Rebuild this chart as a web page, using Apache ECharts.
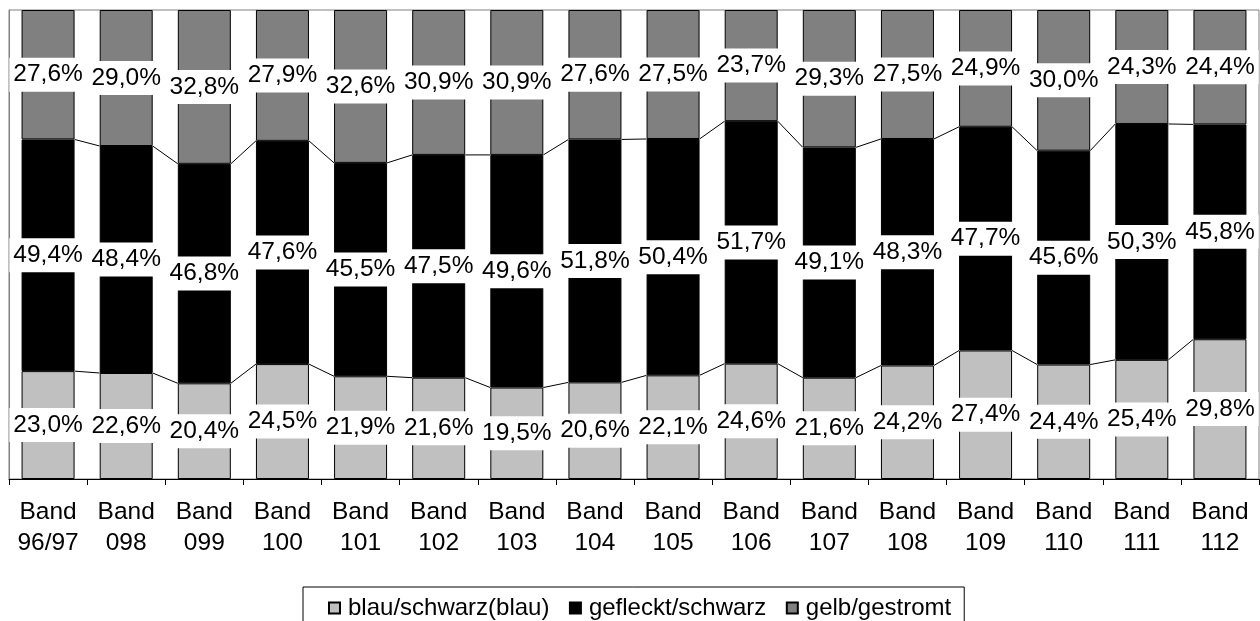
<!DOCTYPE html>
<html>
<head>
<meta charset="utf-8">
<script src="https://cdn.jsdelivr.net/npm/echarts@6/dist/echarts.min.js"></script>
<style>
html,body{margin:0;padding:0;background:#fff;}
#chart{width:1260px;height:621px;}
</style>
</head>
<body>
<div id="chart"></div>
<script>
const categories = ['Band\n96/97','Band\n098','Band\n099','Band\n100','Band\n101','Band\n102','Band\n103','Band\n104','Band\n105','Band\n106','Band\n107','Band\n108','Band\n109','Band\n110','Band\n111','Band\n112'];
const blau = [23.0,22.6,20.4,24.5,21.9,21.6,19.5,20.6,22.1,24.6,21.6,24.2,27.4,24.4,25.4,29.8];
const gefleckt = [49.4,48.4,46.8,47.6,45.5,47.5,49.6,51.8,50.4,51.7,49.1,48.3,47.7,45.6,50.3,45.8];
const gelb = [27.6,29.0,32.8,27.9,32.6,30.9,30.9,27.6,27.5,23.7,29.3,27.5,24.9,30.0,24.3,24.4];
const seriesNames = ['blau/schwarz(blau)','gefleckt/schwarz','gelb/gestromt'];

const FONT = "'Liberation Sans', Arial, sans-serif";
const BAR_W = 53;

const cumLow = blau.slice();
const cumMid = blau.map((v,i)=>v+gefleckt[i]);
const connData = [];
for (let i=0;i<categories.length-1;i++){
  connData.push([i, i+1, cumLow[i], cumLow[i+1], cumMid[i], cumMid[i+1]]);
}

const fmt = p => p.value.toFixed(1).replace('.', ',') + '%';
const labelCfg = {
  show: true, position: 'inside', formatter: fmt,
  color: '#000', fontFamily: FONT, fontSize: 24.5, lineHeight: 24,
  backgroundColor: '#fff', padding: [5,4]
};

function barSeries(name, data, color){
  return {
    name, type: 'bar', stack: 'total', data, barWidth: BAR_W,
    itemStyle: {color, borderColor: '#000', borderWidth: 1},
    label: labelCfg
  };
}

const chart = echarts.init(document.getElementById('chart'), null, {renderer:'canvas'});
chart.setOption({
  animation: false,
  backgroundColor: '#fff',
  grid: {left: 9, right: 1, top: 10, bottom: 142, show: true, borderColor: '#808080', borderWidth: 1},
  xAxis: {
    type: 'category', data: categories,
    axisLine: {lineStyle: {color: '#000', width: 1}},
    axisTick: {show: true, length: 6, lineStyle: {color: '#000'}},
    axisLabel: {color: '#000', fontFamily: FONT, fontSize: 24.5, lineHeight: 30.5, margin: 18, interval: 0}
  },
  yAxis: {
    type: 'value', min: 0, max: 100,
    axisLine: {show: true, lineStyle: {color: '#808080'}},
    axisTick: {show: false}, axisLabel: {show: false}, splitLine: {show: false}
  },
  legend: {
    data: seriesNames, left: 303, top: 587, orient: 'horizontal',
    borderColor: '#000', borderWidth: 1, padding: [9,13,9,25],
    itemGap: 19.5, itemWidth: 11, itemHeight: 11, icon: 'rect',
    textStyle: {color: '#000', fontFamily: FONT, fontSize: 24, padding: [0,0,0,3]}
  },
  series: [
    barSeries(seriesNames[0], blau, '#C0C0C0'),
    barSeries(seriesNames[1], gefleckt, '#000000'),
    barSeries(seriesNames[2], gelb, '#808080'),
    {
      type: 'custom', name: 'conn', data: connData, silent: true,
      encode: {x: [0,1], y: [2,3,4,5]},
      renderItem: function(params, api){
        const hw = BAR_W/2;
        const a1 = api.coord([api.value(0), api.value(2)]);
        const b1 = api.coord([api.value(1), api.value(3)]);
        const a2 = api.coord([api.value(0), api.value(4)]);
        const b2 = api.coord([api.value(1), api.value(5)]);
        return {type: 'group', children: [
          {type:'line', shape:{x1:a1[0]+hw, y1:a1[1], x2:b1[0]-hw, y2:b1[1]}, style:{stroke:'#000', lineWidth:1}},
          {type:'line', shape:{x1:a2[0]+hw, y1:a2[1], x2:b2[0]-hw, y2:b2[1]}, style:{stroke:'#000', lineWidth:1}}
        ]};
      }
    }
  ]
});
</script>
</body>
</html>
